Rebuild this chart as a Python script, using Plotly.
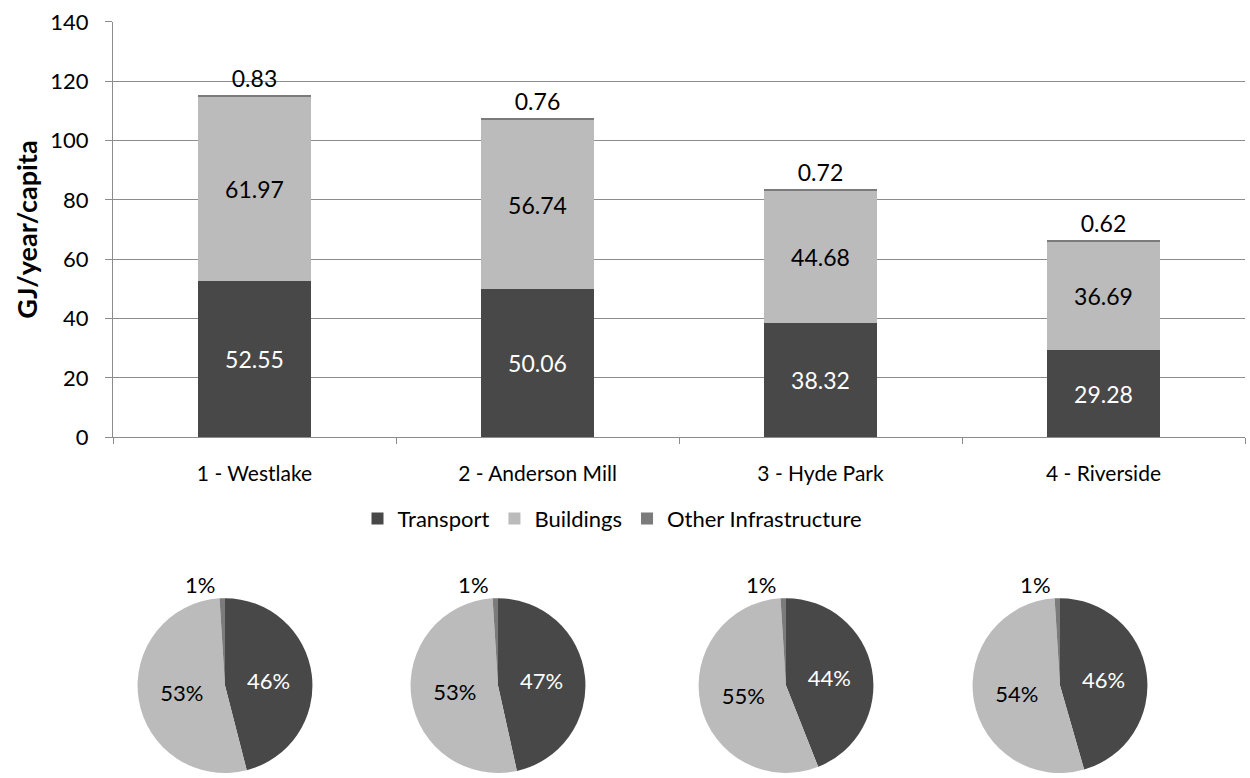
import plotly.graph_objects as go

categories = ["1 - Westlake", "2 - Anderson Mill", "3 - Hyde Park", "4 - Riverside"]
series_names = ["Transport", "Buildings", "Other Infrastructure"]
transport = [52.55, 50.06, 38.32, 29.28]
buildings = [61.97, 56.74, 44.68, 36.69]
other = [0.83, 0.76, 0.72, 0.62]
y_ticks = [0, 20, 40, 60, 80, 100, 120, 140]
# percentages shown on the pies (Transport, Buildings, Other)
pie_percent = [[46, 53, 1], [47, 53, 1], [44, 55, 1], [46, 54, 1]]

colors = ["#484848", "#bbbbbb", "#7b7b7b"]
FONT = "Lato"
W, H = 1250, 778

fig = go.Figure()

fig.add_bar(x=categories, y=transport, name=series_names[0], marker=dict(color=colors[0], line=dict(width=0)),
            texttemplate="%{y:.2f}", textposition="inside", insidetextanchor="middle",
            textfont=dict(color="white", size=23, family=FONT))
fig.add_bar(x=categories, y=buildings, name=series_names[1], marker=dict(color=colors[1], line=dict(width=0)),
            texttemplate="%{y:.2f}", textposition="inside", insidetextanchor="middle",
            textfont=dict(color="black", size=23, family=FONT))
fig.add_bar(x=categories, y=other, name=series_names[2], marker=dict(color=colors[2], line=dict(width=0)),
            texttemplate="%{y:.2f}", textposition="outside",
            textfont=dict(color="black", size=23, family=FONT), cliponaxis=False)

pie_cx = [225, 498, 786, 1060]
R = 88
for i, vals in enumerate(pie_percent):
    cx = pie_cx[i]
    fig.add_pie(values=vals, labels=series_names, sort=False, direction="clockwise", rotation=0,
                marker=dict(colors=colors, line=dict(width=0)),
                texttemplate="%{value}%", textposition=["inside", "inside", "outside"],
                textfont=dict(size=22, family=FONT, color=["white", "black", "black"]),
                insidetextorientation="horizontal",
                domain=dict(x=[(cx - R) / W, (cx + R) / W], y=[0, 2 * R / H]),
                showlegend=False, hoverinfo="label+percent")

fig.update_layout(
    width=W, height=H,
    margin=dict(l=0, r=0, t=0, b=0),
    paper_bgcolor="white", plot_bgcolor="white",
    barmode="stack", bargap=0.6,
    font=dict(family=FONT, size=21, color="black"),
    showlegend=True,
    legend=dict(orientation="h", x=0.49, xanchor="center", y=(H - 522) / H, yanchor="middle",
                font=dict(size=22, family=FONT), traceorder="normal", itemwidth=30),
    xaxis=dict(domain=[113 / W, 1245 / W], showline=True, linecolor="#8c8c8c", linewidth=1,
               ticks="outside", tickson="boundaries", ticklen=6, tickcolor="#8c8c8c",
               tickfont=dict(size=21, family=FONT, color="black"), ticklabelstandoff=18,
               showgrid=False, automargin=False, fixedrange=True),
    yaxis=dict(domain=[(H - 440) / H, (H - 22) / H], range=[0, 140], tickvals=y_ticks,
               showline=True, linecolor="#8c8c8c", linewidth=1,
               ticks="outside", ticklen=7, tickcolor="#8c8c8c",
               showgrid=True, gridcolor="#8c8c8c", gridwidth=1, zeroline=False,
               tickfont=dict(size=22, family=FONT, color="black"), ticklabelstandoff=12,
               title=dict(text="<b>GJ/year/capita</b>", font=dict(size=27, family=FONT), standoff=4),
               automargin=False, fixedrange=True),
)

fig.write_html("out.html", config={"displayModeBar": False},
               post_script="document.body.style.margin='0';document.body.style.overflow='hidden';")
